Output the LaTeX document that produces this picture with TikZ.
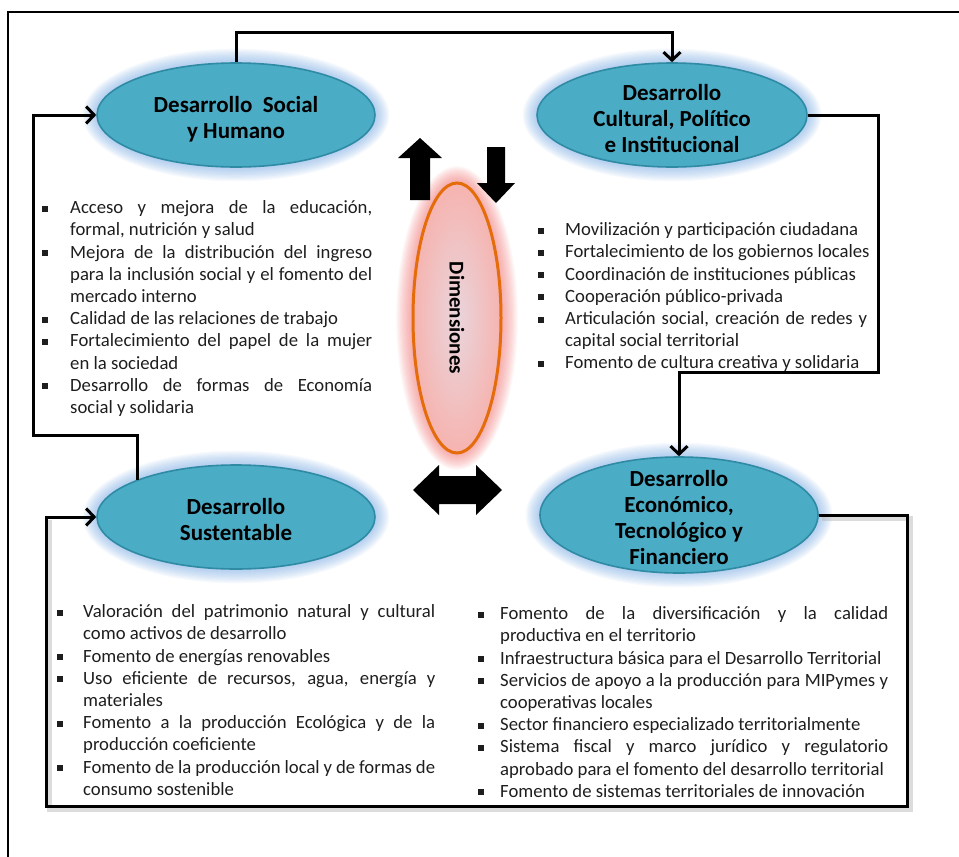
\documentclass[tikz,border=0pt]{standalone}
\usepackage{fontspec}
\setmainfont{Carlito}
\usetikzlibrary{arrows.meta,shapes.geometric}
\pgfdeclarelayer{glow}
\pgfsetlayers{glow,main}

\definecolor{ellfill}{HTML}{4BACC6}
\definecolor{elledge}{HTML}{2F8AA3}
\definecolor{ellglow}{HTML}{6FA3E0}
\definecolor{dimedge}{HTML}{E46C0A}
\definecolor{dimin}{HTML}{E9D5DC}
\definecolor{dimout}{HTML}{F6B4B0}
\definecolor{dimglow}{HTML}{F07070}
\definecolor{txt}{HTML}{1E1E1E}

% list lines: bullet / continuation, natural / justified
\newlength\lw
\newlength\li
\newcommand\bulbox{\makebox[\li][l]{\raisebox{2pt}{\rule{6pt}{6pt}}}}
\newcommand\lbn[1]{\bulbox#1\strut}
\newcommand\lbj[1]{\bulbox\makebox[\lw][s]{#1}\strut}
\newcommand\lcn[1]{\hspace*{\li}#1\strut}
\newcommand\lcj[1]{\hspace*{\li}\makebox[\lw][s]{#1}\strut}
% use the font's own stretchable interword space
\newcommand\listsetup[2]{\noindent\spaceskip=0pt\xspaceskip=0pt\setlength\li{#1}\setlength\lw{#2}}

% soft halo around an elliptic node
\newcommand\halo[5]{%
  \foreach \k in {1,...,#5}{%
    \fill[#4, opacity=0.06] (#1.center) ellipse [x radius=#2pt+\k*1.2pt, y radius=#3pt+\k*1.2pt];}}

\begin{document}
\begin{tikzpicture}[x=1pt,y=-1pt,
  dimnode/.style={ellipse, draw=elledge, line width=1.6pt, fill=ellfill, inner sep=0pt},
  dimtext/.style={inner sep=0pt, align=center, text=black, font=\bfseries\fontsize{23}{26}\selectfont},
  conn/.style={line width=3pt, -{Straight Barb[length=8pt,width=17pt]}},
  listtxt/.style={anchor=north west, inner sep=0pt, text width=420pt, align=left, text=txt,
                  font=\fontsize{18.7}{22.2}\selectfont},
  blockarrow/.style={fill=black}]

\useasboundingbox (0,0) rectangle (959,857);

% outer frame
\draw[line width=1.5pt] (8,857) |- (959,12);

% the four dimensions
\node[dimnode, minimum width=278pt, minimum height=104pt] (social) at (236,115) {};
\node[dimtext] (socialtext) at ([yshift=-4pt]social.center) {Desarrollo\ \ Social\\y Humano};
\node[dimnode, minimum width=270pt, minimum height=104pt] (cultural) at (672,115) {};
\node[dimtext] (culturaltext) at ([yshift=-4pt]cultural.center) {Desarrollo\\Cultural, Político\\e Institucional};
\node[dimnode, minimum width=278pt, minimum height=104pt] (sust) at (236,517) {};
\node[dimtext] (susttext) at ([yshift=-3pt]sust.center) {Desarrollo\\Sustentable};
\node[dimnode, minimum width=278pt, minimum height=116pt] (econ) at (679,515) {};
\node[dimtext] (econtext) at ([yshift=-2.5pt]econ.center) {Desarrollo\\Económico,\\Tecnológico y\\Financiero};

% central ellipse
\node[ellipse, draw=dimedge, line width=3pt, shading=radial, inner color=dimin, outer color=dimout,
      minimum width=88pt, minimum height=270pt, inner sep=0pt] (dim) at (457,318)
      {\rotatebox{-90}{\bfseries\fontsize{21}{24}\selectfont Dimensiones}};

\begin{pgfonlayer}{glow}
  \halo{social}{139}{52}{ellglow}{12}
  \halo{cultural}{135}{52}{ellglow}{12}
  \halo{sust}{139}{52}{ellglow}{12}
  \halo{econ}{139}{58}{ellglow}{12}
  \halo{dim}{44}{135}{dimglow}{14}
\end{pgfonlayer}

% block arrows around the centre
\fill[blockarrow] (420,138) -- (442,158) -- (430,158) -- (430,200) -- (410,200) -- (410,158) -- (398,158) -- cycle;
\fill[blockarrow] (496,203) -- (515,183) -- (505,183) -- (505,147) -- (487,147) -- (487,183) -- (477,183) -- cycle;
\fill[blockarrow] (413,490) -- (439,465) -- (439,476) -- (476,476) -- (476,465) -- (502,490)
  -- (476,515) -- (476,504) -- (439,504) -- (439,515) -- cycle;

% connectors
\coordinate (c2) at (878,372);
\coordinate (c3) at (907,806);
\coordinate (c4) at (46,517);
\coordinate (c5) at (33,435);

\begin{pgfonlayer}{glow}
  \begin{scope}[transform canvas={shift={(3pt,-3pt)}}]
    \draw[line width=5pt, black!30, opacity=.45] (econ.east) -| (c3) -| (c4);
  \end{scope}
\end{pgfonlayer}

\draw[conn] (social.north) -- ++(0,-30) -| (cultural.north);
\draw[conn] (cultural.east) -| (c2) -| (econ.north);
\draw[conn] (econ.east) -| (c3) -| (c4) -- (sust.west);
\draw[conn] (sust.north west) |- (c5) |- (social.west);

% lists
\node[listtxt] (listsocial) at (42,198) {\listsetup{28pt}{302pt}%
\lbj{Acceso y mejora de la educación,}\\
\lcn{formal, nutrición y salud}\\
\lbj{Mejora de la distribución del ingreso}\\
\lcj{para la inclusión social y el fomento del}\\
\lcn{mercado interno}\\
\lbn{Calidad de las relaciones de trabajo}\\
\lbj{Fortalecimiento del papel de la mujer}\\
\lcn{en la sociedad}\\
\lbj{Desarrollo de formas de Economía}\\
\lcn{social y solidaria}};

\node[listtxt] (listcultural) at (538,220) {\listsetup{27pt}{302pt}%
\lbn{Movilización y participación ciudadana}\\
\lbn{Fortalecimiento de los gobiernos locales}\\
\lbn{Coordinación de instituciones públicas}\\
\lbn{Cooperación público-privada}\\
\lbj{Articulación social, creación de redes y}\\
\lcn{capital social territorial}\\
\lbn{Fomento de cultura creativa y solidaria}};

\node[listtxt] (listsust) at (57,602) {\listsetup{26pt}{352pt}%
\lbj{Valoración del patrimonio natural y cultural}\\
\lcn{como activos de desarrollo}\\
\lbn{Fomento de energías renovables}\\
\lbj{Uso eficiente de recursos, agua, energía y}\\
\lcn{materiales}\\
\lbj{Fomento a la producción Ecológica y de la}\\
\lcn{producción coeficiente}\\
\lbj{Fomento de la producción local y de formas de}\\
\lcn{consumo sostenible}};

\node[listtxt] (listecon) at (478,604) {\listsetup{22pt}{388pt}%
\lbj{Fomento de la diversificación y la calidad}\\
\lcn{productiva en el territorio}\\
\lbn{Infraestructura básica para el Desarrollo Territorial}\\
\lbj{Servicios de apoyo a la producción para MIPymes y}\\
\lcn{cooperativas locales}\\
\lbn{Sector financiero especializado territorialmente}\\
\lbj{Sistema fiscal y marco jurídico y regulatorio}\\
\lcn{aprobado para el fomento del desarrollo territorial}\\
\lbn{Fomento de sistemas territoriales de innovación}};

\end{tikzpicture}
\end{document}
